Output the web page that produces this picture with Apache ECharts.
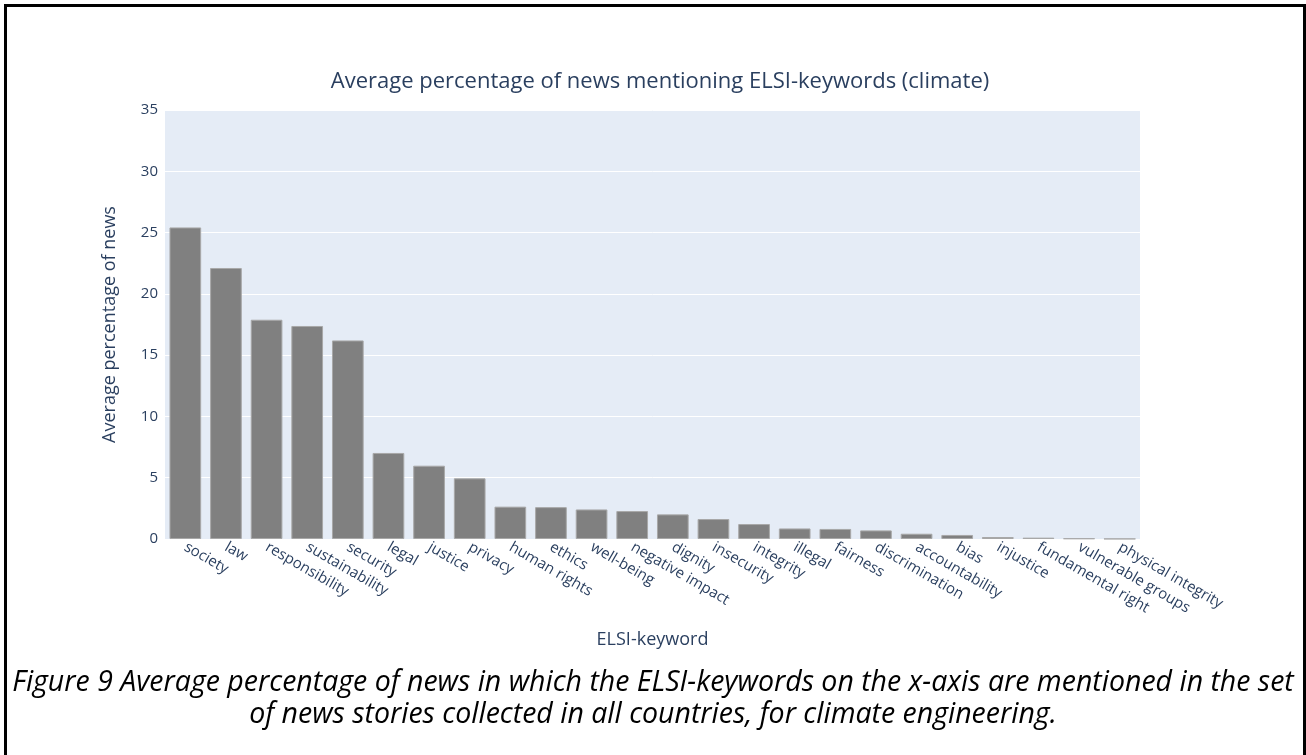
<!DOCTYPE html>
<html>
<head>
<meta charset="utf-8">
<script src="https://cdn.jsdelivr.net/npm/echarts@6/dist/echarts.min.js"></script>
<style>
  html, body { margin: 0; padding: 0; background: #ffffff; }
  #chart { width: 1306px; height: 755px; }
</style>
</head>
<body>
<div id="chart"></div>
<script>
const categories = ['society', 'law', 'responsibility', 'sustainability', 'security', 'legal', 'justice', 'privacy', 'human rights', 'ethics', 'well-being', 'negative impact', 'dignity', 'insecurity', 'integrity', 'illegal', 'fairness', 'discrimination', 'accountability', 'bias', 'injustice', 'fundamental right', 'vulnerable groups', 'physical integrity'];
const values = [25.42, 22.11, 17.89, 17.38, 16.2, 7.02, 5.98, 4.95, 2.64, 2.6, 2.41, 2.28, 2.01, 1.63, 1.22, 0.86, 0.82, 0.7, 0.43, 0.33, 0.16, 0.11, 0.05, 0.02];
const yTicks = { min: 0, max: 35, interval: 5 };
const titleText = 'Average percentage of news mentioning ELSI-keywords (climate)';
const xAxisTitle = 'ELSI-keyword';
const yAxisTitle = 'Average percentage of news';
const captionLines = [
  'Figure 9 Average percentage of news in which the ELSI-keywords on the x-axis are mentioned in the set',
  'of news stories collected in all countries, for climate engineering.'
];

const font = '"Open Sans", verdana, arial, sans-serif';
const txt = '#2a3f5f';
const chart = echarts.init(document.getElementById('chart'));
chart.setOption({
  animation: false,
  backgroundColor: '#ffffff',
  title: {
    text: titleText,
    left: 655, top: 66, textAlign: 'center',
    textStyle: { fontFamily: font, fontSize: 22, fontWeight: 'normal', color: txt }
  },
  grid: { left: 165, right: 166, top: 110, bottom: 216, containLabel: false,
          show: true, backgroundColor: '#E5ECF6', borderWidth: 0 },
  xAxis: {
    type: 'category', data: categories,
    name: xAxisTitle, nameLocation: 'middle', nameGap: 92,
    nameTextStyle: { fontFamily: font, fontSize: 18, color: txt },
    axisLine: { show: false }, axisTick: { show: false },
    axisLabel: { rotate: -30, interval: 0, margin: 7, fontFamily: font, fontSize: 15, color: txt }
  },
  yAxis: {
    type: 'value', min: yTicks.min, max: yTicks.max, interval: yTicks.interval,
    name: yAxisTitle, nameLocation: 'middle', nameGap: 46,
    nameTextStyle: { fontFamily: font, fontSize: 18, color: txt },
    axisLine: { show: false }, axisTick: { show: false },
    axisLabel: { margin: 7, fontFamily: font, fontSize: 15, color: txt },
    splitLine: { lineStyle: { color: '#ffffff', width: 1 } }
  },
  series: [{
    type: 'bar', data: values, barCategoryGap: '22%',
    itemStyle: { color: '#808080', borderColor: '#a8a8a8', borderWidth: 1 }
  }],
  graphic: [
    { type: 'rect', silent: true, z: 100,
      shape: { x: 5.5, y: 5.5, width: 1299, height: 800 },
      style: { fill: 'none', stroke: '#000000', lineWidth: 3 } },
    { type: 'text', x: 653, y: 667, z: 100,
      style: { text: captionLines.join('\n'), fontFamily: '"Open Sans", sans-serif', fontStyle: 'italic',
               fontSize: 28.5, lineHeight: 32, fill: '#000000', align: 'center', verticalAlign: 'top' } }
  ]
});
</script>
</body>
</html>
